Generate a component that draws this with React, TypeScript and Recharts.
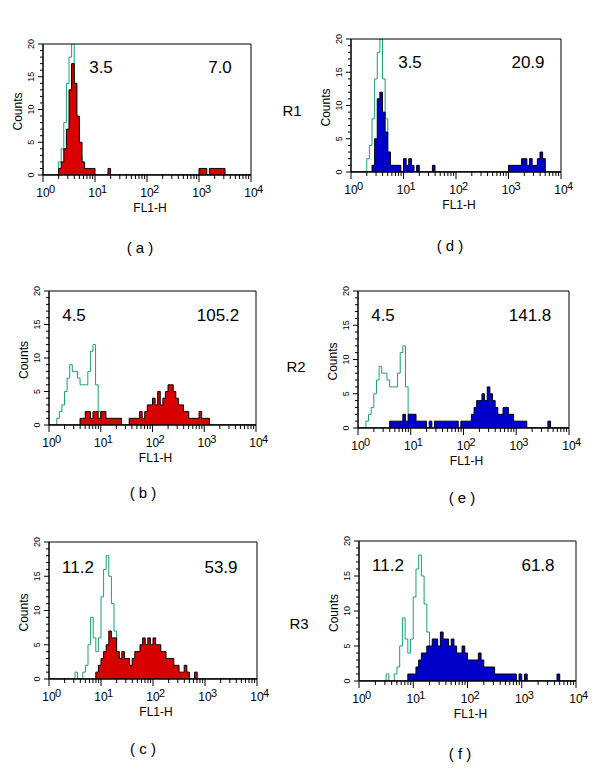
import { Area, ComposedChart, ReferenceArea, XAxis, YAxis } from 'recharts'

const FONT = '"Liberation Sans", Arial, Helvetica, sans-serif'
const RED = '#d80000'
const BLUE = '#0000c8'
const GREEN = '#1a9f78'

// histogram channels, 0.05 decade wide, from 10^0 to 10^4 (80 per series)
const BIN = 0.05

// isotype controls (green outlines), one per row
const CTRL_R1 = [
  0, 0, 0, 0, 0, 0, 2, 4, 8, 14, 18, 20, 14, 8, 3, 1, 0, 0, 0, 0,
  0, 0, 0, 0, 0, 0, 0, 0, 0, 0, 0, 0, 0, 0, 0, 0, 0, 0, 0, 0,
  0, 0, 0, 0, 0, 0, 0, 0, 0, 0, 0, 0, 0, 0, 0, 0, 0, 0, 0, 0,
  0, 0, 0, 0, 0, 0, 0, 0, 0, 0, 0, 0, 0, 0, 0, 0, 0, 0, 0, 0,
]
const CTRL_R2 = [
  0, 0, 0, 1, 2, 3, 5, 7, 9, 8, 8, 7, 6, 6, 6, 8, 11, 12, 6, 2,
  0, 0, 0, 0, 0, 0, 0, 0, 0, 0, 0, 0, 0, 0, 0, 0, 0, 0, 0, 0,
  0, 0, 0, 0, 0, 0, 0, 0, 0, 0, 0, 0, 0, 0, 0, 0, 0, 0, 0, 0,
  0, 0, 0, 0, 0, 0, 0, 0, 0, 0, 0, 0, 0, 0, 0, 0, 0, 0, 0, 0,
]
const CTRL_R3 = [
  0, 0, 0, 0, 0, 0, 0, 0, 0, 0, 1, 0, 0, 1, 2, 5, 9, 6, 4, 6,
  12, 16, 18, 15, 11, 7, 4, 1, 0, 0, 0, 0, 0, 0, 0, 0, 0, 0, 0, 0,
  0, 0, 0, 0, 0, 0, 0, 0, 0, 0, 0, 0, 0, 0, 0, 0, 0, 0, 0, 0,
  0, 0, 0, 0, 0, 0, 0, 0, 0, 0, 0, 0, 0, 0, 0, 0, 0, 0, 0, 0,
]

// stained samples
const A_R1 = [
  0, 0, 0, 0, 0, 0, 1, 2, 4, 7, 13, 17, 14, 9, 5, 2, 1, 1, 1, 1,
  0, 0, 0, 0, 0, 1, 0, 0, 0, 0, 0, 0, 0, 0, 0, 0, 0, 0, 0, 0,
  0, 0, 0, 0, 0, 0, 0, 0, 0, 0, 0, 0, 0, 0, 0, 0, 0, 0, 0, 0,
  1, 1, 1, 0, 1, 1, 1, 1, 1, 1, 0, 0, 0, 0, 0, 0, 0, 0, 0, 0,
]
const D_R1 = [
  0, 0, 0, 0, 0, 0, 0, 0, 1, 5, 11, 12, 9, 6, 3, 1, 1, 1, 1, 0,
  2, 1, 2, 1, 0, 1, 0, 0, 0, 0, 0, 1, 0, 0, 0, 0, 0, 0, 0, 0,
  0, 0, 0, 0, 0, 0, 0, 0, 0, 0, 0, 0, 0, 0, 0, 0, 0, 0, 0, 0,
  1, 1, 1, 1, 1, 2, 2, 1, 2, 1, 1, 2, 3, 2, 0, 0, 0, 0, 0, 0,
]
const B_R2 = [
  0, 0, 0, 0, 0, 0, 0, 0, 0, 0, 0, 0, 1, 1, 2, 2, 1, 2, 2, 1,
  2, 2, 1, 1, 1, 1, 1, 1, 0, 0, 0, 1, 1, 1, 1, 2, 1, 2, 3, 3,
  4, 3, 5, 3, 4, 5, 6, 6, 5, 4, 3, 3, 2, 2, 1, 1, 1, 1, 2, 1,
  1, 1, 0, 0, 0, 0, 0, 0, 0, 0, 0, 0, 0, 0, 0, 0, 0, 0, 0, 0,
]
const E_R2 = [
  0, 0, 0, 0, 0, 0, 0, 0, 0, 0, 0, 0, 1, 1, 1, 1, 1, 2, 1, 2,
  2, 2, 1, 1, 1, 1, 0, 1, 0, 1, 1, 1, 1, 1, 1, 1, 1, 1, 0, 1,
  1, 1, 1, 2, 3, 4, 4, 5, 4, 6, 5, 4, 3, 2, 2, 3, 3, 2, 2, 1,
  1, 1, 1, 1, 0, 0, 0, 0, 0, 0, 0, 0, 1, 0, 0, 0, 0, 0, 0, 0,
]
const C_R3 = [
  0, 0, 0, 0, 0, 0, 0, 0, 0, 0, 0, 0, 0, 0, 0, 0, 0, 0, 1, 2,
  3, 4, 5, 7, 6, 6, 4, 3, 4, 3, 3, 2, 3, 4, 4, 5, 6, 5, 6, 5,
  6, 5, 5, 4, 4, 3, 3, 3, 2, 2, 1, 1, 2, 1, 0, 0, 1, 0, 0, 0,
  0, 0, 0, 0, 0, 0, 0, 0, 0, 0, 0, 0, 0, 0, 0, 0, 0, 0, 0, 0,
]
const F_R3 = [
  0, 0, 0, 0, 0, 0, 0, 0, 0, 0, 0, 0, 0, 0, 0, 0, 0, 0, 1, 1,
  1, 2, 3, 4, 4, 5, 5, 6, 6, 5, 7, 6, 6, 5, 6, 5, 4, 4, 5, 4,
  3, 3, 3, 3, 4, 3, 2, 2, 2, 2, 1, 1, 1, 1, 1, 1, 1, 1, 0, 1,
  0, 1, 0, 0, 0, 0, 0, 0, 0, 0, 0, 0, 0, 1, 0, 0, 0, 0, 0, 0,
]

const X_DECADES = [1, 10, 100, 1000]
const X_MINOR = [2, 3, 4, 5, 6, 7, 8, 9]
const X_TICKS = [...X_DECADES.flatMap((d) => [d, ...X_MINOR.map((m) => d * m)]), 10000]
const Y_TICKS = [0, 1, 2, 3, 4, 5, 6, 7, 8, 9, 10, 11, 12, 13, 14, 15, 16, 17, 18, 19, 20]

const ROW_LABELS = ['R1', 'R2', 'R3']

const PANELS = [
  { ctrl: CTRL_R1, sample: A_R1, fill: RED, stats: ['3.5', '7.0'], caption: '( a )' },
  { ctrl: CTRL_R1, sample: D_R1, fill: BLUE, stats: ['3.5', '20.9'], caption: '( d )' },
  { ctrl: CTRL_R2, sample: B_R2, fill: RED, stats: ['4.5', '105.2'], caption: '( b )' },
  { ctrl: CTRL_R2, sample: E_R2, fill: BLUE, stats: ['4.5', '141.8'], caption: '( e )' },
  { ctrl: CTRL_R3, sample: C_R3, fill: RED, stats: ['11.2', '53.9'], caption: '( c )' },
  { ctrl: CTRL_R3, sample: F_R3, fill: BLUE, stats: ['11.2', '61.8'], caption: '( f )' },
]

// plot boxes and label placement, page pixels
const LAYOUT = [
  { x: 43, y: 44, w: 208, h: 131, s1: 58, s2: 177, sy: 23, cx: 140, cy: 247 },
  { x: 351, y: 39, w: 210, h: 133, s1: 59, s2: 177, sy: 23, cx: 450, cy: 245 },
  { x: 49, y: 291, w: 207, h: 134, s1: 25, s2: 169, sy: 24, cx: 143, cy: 492 },
  { x: 358, y: 291, w: 211, h: 137, s1: 25, s2: 172, sy: 24, cx: 462, cy: 497 },
  { x: 49, y: 542, w: 208, h: 137, s1: 29, s2: 172, sy: 25, cx: 143, cy: 748 },
  { x: 359, y: 541, w: 217, h: 140, s1: 29, s2: 179, sy: 24, cx: 460, cy: 753 },
]
const ROW_POS = [
  { x: 292, y: 110 },
  { x: 296, y: 366 },
  { x: 299, y: 623 },
]

const ML = 40
const MT = 6
const MR = 22
const MB = 50

function toRows(ctrl: number[], sample: number[]) {
  const rows = ctrl.map((c, i) => ({ x: 10 ** (i * BIN), ctrl: c, sample: sample[i] }))
  rows.push({ x: 10000, ctrl: ctrl[ctrl.length - 1], sample: sample[sample.length - 1] })
  return rows
}

function XTick({ x, y, payload }: any) {
  const exp = Math.log10(payload.value)
  const major = Math.abs(exp - Math.round(exp)) < 1e-6
  return (
    <g>
      <line x1={x} x2={x} y1={y} y2={y + (major ? 7 : 4)} stroke="#000" />
      {major && (
        <>
          <text x={x} y={y + 22} textAnchor="middle" fontSize={12} fontFamily={FONT} fill="#000">
            10
          </text>
          <text x={x + 6} y={y + 18} fontSize={11} fontFamily={FONT} fill="#000">
            {Math.round(exp)}
          </text>
        </>
      )}
    </g>
  )
}

function YTick({ x, y, payload }: any) {
  const major = payload.value % 5 === 0
  return (
    <g>
      <line x1={x - (major ? 5 : 3)} x2={x} y1={y} y2={y} stroke="#000" />
      {major && (
        <text
          x={x - 12}
          y={y}
          transform={`rotate(-90 ${x - 12} ${y})`}
          textAnchor="middle"
          dominantBaseline="central"
          fontSize={9}
          fontFamily={FONT}
          fill="#000"
        >
          {payload.value}
        </text>
      )}
    </g>
  )
}

function Histogram({ panel, box }: { panel: (typeof PANELS)[number]; box: (typeof LAYOUT)[number] }) {
  const data = toRows(panel.ctrl, panel.sample)
  return (
    <div style={{ position: 'absolute', left: box.x - ML, top: box.y - MT }}>
      <ComposedChart
        width={box.w + ML + MR}
        height={box.h + MT + MB}
        data={data}
        margin={{ top: MT, right: MR, left: 0, bottom: 0 }}
      >
        <XAxis
          dataKey="x"
          type="number"
          scale="log"
          domain={[1, 10000]}
          allowDataOverflow
          ticks={X_TICKS}
          interval={0}
          tickSize={0}
          tickMargin={0}
          tickLine={false}
          tick={<XTick />}
          height={MB}
          stroke="#000"
        />
        <YAxis
          type="number"
          domain={[0, 20]}
          allowDataOverflow
          ticks={Y_TICKS}
          interval={0}
          tickSize={0}
          tickMargin={0}
          tickLine={false}
          tick={<YTick />}
          width={ML}
          stroke="#000"
        />
        <Area
          type="stepAfter"
          dataKey="ctrl"
          stroke={GREEN}
          strokeWidth={1}
          fill="none"
          dot={false}
          activeDot={false}
          isAnimationActive={false}
        />
        <Area
          type="stepAfter"
          dataKey="sample"
          fill={panel.fill}
          fillOpacity={1}
          stroke="#000"
          strokeWidth={1}
          dot={false}
          activeDot={false}
          isAnimationActive={false}
        />
        <ReferenceArea x1={1} x2={10000} y1={0} y2={20} fill="none" stroke="#000" strokeWidth={1} />
      </ComposedChart>
    </div>
  )
}

export default function App() {
  return (
    <div style={{ position: 'absolute', left: 0, top: 0, width: 600, height: 777, background: '#fff' }}>
      {PANELS.map((p, i) => (
        <Histogram key={p.caption} panel={p} box={LAYOUT[i]} />
      ))}
      <svg
        width={600}
        height={777}
        style={{ position: 'absolute', left: 0, top: 0, pointerEvents: 'none' }}
        fontFamily={FONT}
      >
        {PANELS.map((p, i) => {
          const b = LAYOUT[i]
          return (
            <g key={p.caption}>
              <text x={b.x + b.s1} y={b.y + b.sy} textAnchor="middle" dominantBaseline="central" fontSize={17}>
                {p.stats[0]}
              </text>
              <text x={b.x + b.s2} y={b.y + b.sy} textAnchor="middle" dominantBaseline="central" fontSize={17}>
                {p.stats[1]}
              </text>
              <text
                x={b.x - 25}
                y={b.y + b.h / 2 + 2}
                transform={`rotate(-90 ${b.x - 25} ${b.y + b.h / 2 + 2})`}
                textAnchor="middle"
                dominantBaseline="central"
                fontSize={12}
              >
                Counts
              </text>
              <text x={b.x + b.w / 2 + 3} y={b.y + b.h + 33} textAnchor="middle" dominantBaseline="central" fontSize={12}>
                FL1-H
              </text>
              <text x={b.cx} y={b.cy} textAnchor="middle" dominantBaseline="central" fontSize={15}>
                {p.caption}
              </text>
            </g>
          )
        })}
        {ROW_LABELS.map((r, i) => (
          <text key={r} x={ROW_POS[i].x} y={ROW_POS[i].y} textAnchor="middle" dominantBaseline="central" fontSize={15}>
            {r}
          </text>
        ))}
      </svg>
    </div>
  )
}
